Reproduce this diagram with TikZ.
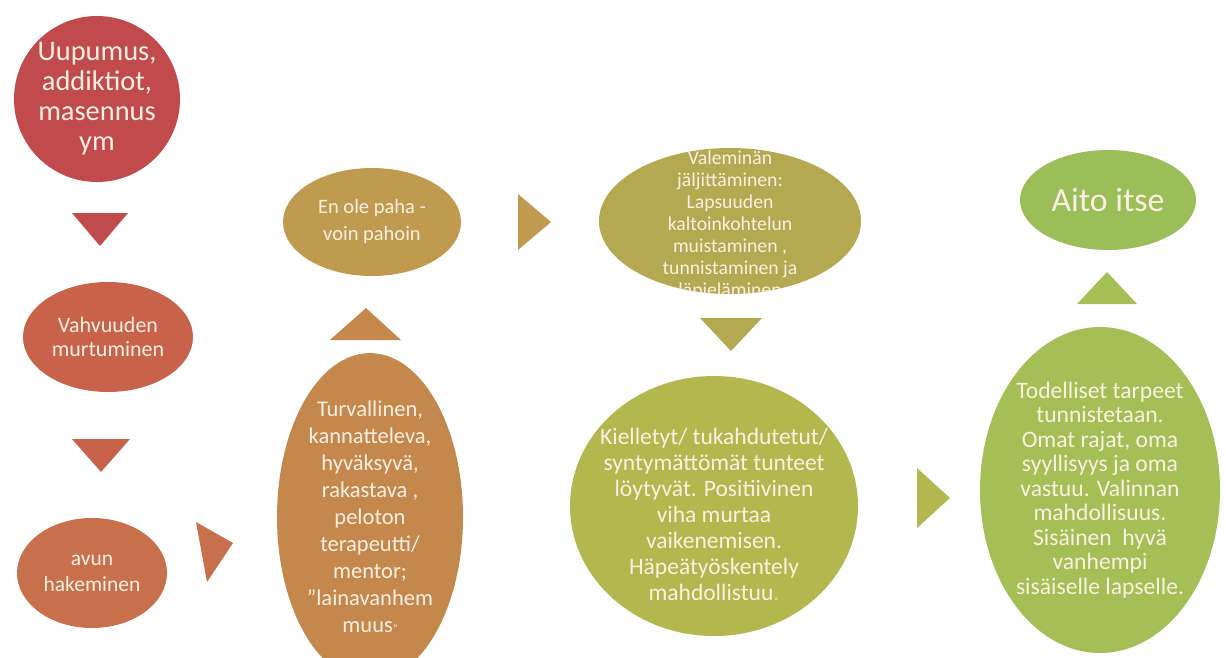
\documentclass[tikz,border=0pt]{standalone}
\usepackage{fontspec}
\setmainfont{Carlito}
\usetikzlibrary{shapes.geometric, positioning, calc}

\definecolor{cRed}{RGB}{192,74,76}
\definecolor{cRust}{RGB}{200,98,74}
\definecolor{cOrange}{RGB}{200,112,75}
\definecolor{cBrown}{RGB}{196,135,76}
\definecolor{cOchre}{RGB}{192,154,79}
\definecolor{cOlive}{RGB}{180,168,80}
\definecolor{cLime}{RGB}{178,184,78}
\definecolor{cGreen}{RGB}{165,190,85}
\definecolor{cLeaf}{RGB}{155,190,89}
\definecolor{cText}{RGB}{250,240,226}

\tikzset{
  blob/.style={ellipse, inner sep=0pt, align=center, text=cText},
  fsize/.style 2 args={font=\fontsize{#1}{#2}\selectfont}
}

\begin{document}
\begin{tikzpicture}[x=1pt, y=-1pt]

  \useasboundingbox (0,0) rectangle (1226,657);

  % --- ensimmainen sarake ---
  \node [blob, fill=cRed, circle, minimum size=166, fsize={28.4}{30}] (uup) at (97,99)
    {Uupumus,\\addiktiot,\\masennus\\ym};
  \node [blob, fill=cRust, minimum width=170, minimum height=110, fsize={22}{24}] (vahv) at (108,337)
    {Vahvuuden\\murtuminen};
  \node [blob, fill=cOrange, minimum width=150, minimum height=110, fsize={21.5}{26}] (avun) at (92,573)
    {avun\\hakeminen};

  % nuolikolmiot
  \fill [cRed] (72,213) -- (128,213) -- (100,246) -- cycle;
  \fill [cRust] (72,439) -- (130,439) -- (101,472) -- cycle;
  \fill [cOrange] (196,522) -- (233,543) -- (207,582) -- cycle;

  % --- toinen sarake ---
  \node [blob, fill=cBrown, minimum width=186, minimum height=292, fsize={22.5}{27}] (turva) at (370,517)
    {Turvallinen,\\kannatteleva,\\hyväksyvä,\\rakastava ,\\peloton\\terapeutti/\\mentor;\\"lainavanhem\\muus{\fontsize{11}{11}\selectfont "}};
  \node [blob, fill=cOchre, minimum width=178, minimum height=108, fsize={20.5}{27}] (paha) at (372,222)
    {En ole paha -\\voin pahoin};

  \fill [cBrown] (330,340) -- (401,340) -- (366,308) -- cycle;
  \fill [cOchre] (518,194) -- (518,250) -- (551,222) -- cycle;

  % --- kolmas sarake ---
  \node [blob, fill=cOlive, minimum width=262, minimum height=146,
    path picture={\node [align=center, text=cText, fsize={19.7}{22}]
      at ([yshift=-4pt]path picture bounding box.center)
      {Valeminän\\jäljittäminen:\\Lapsuuden\\kaltoinkohtelun\\muistaminen ,\\tunnistaminen ja\\läpieläminen};}] (vale) at (730,221) {};
  \node [blob, fill=cLime, minimum width=288, minimum height=260] (kiel) at (714,506) {};
  \node [align=center, text=cText, fsize={23.5}{26}] (kielt) at (714,514)
    {Kielletyt/ tukahdutetut/\\syntymättömät tunteet\\löytyvät. Positiivinen\\viha murtaa\\vaikenemisen.\\Häpeätyöskentely\\mahdollistuu{\color{cText!60!cLime}.}};

  \fill [cOlive] (700,318) -- (762,318) -- (731,351) -- cycle;
  \fill [cLime] (917,468) -- (917,528) -- (950,498) -- cycle;

  % --- neljas sarake ---
  \node [blob, fill=cGreen, minimum width=240, minimum height=326, fsize={23.6}{24.5}] (tode) at (1100,490)
    {Todelliset tarpeet\\tunnistetaan.\\Omat rajat, oma\\syyllisyys ja oma\\vastuu. Valinnan\\mahdollisuus.\\Sisäinen\ \ hyvä\\vanhempi\\sisäiselle lapselle.};
  \node [blob, fill=cLeaf, minimum width=176, minimum height=100, fsize={33.8}{38}] (aito) at (1108,200)
    {Aito itse};

  \fill [cGreen] (1077,304) -- (1137,304) -- (1107,272) -- cycle;

\end{tikzpicture}
\end{document}
